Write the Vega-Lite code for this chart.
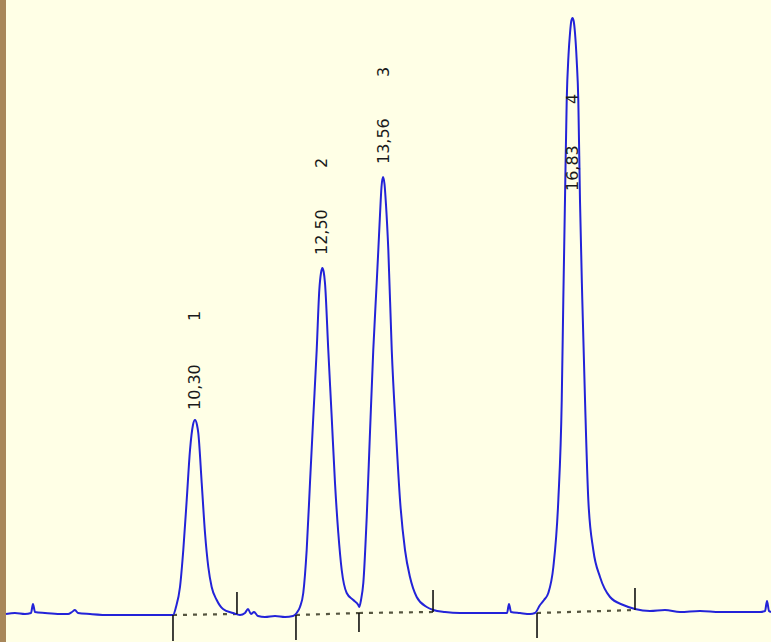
{
  "$schema": "https://vega.github.io/schema/vega-lite/v6.json",
  "width": 765,
  "height": 642,
  "autosize": {"type": "none"},
  "padding": {"left": 6, "top": 0, "right": 0, "bottom": 0},
  "background": "#a8875a",
  "config": {"view": {"fill": "#ffffe6", "stroke": null}},
  "datasets": {
    "trace": [
      {"t": 7.036, "v": 0}, {"t": 7.191, "v": 1}, {"t": 7.364, "v": 0}, {"t": 7.468, "v": 1}, {"t": 7.502, "v": 10}, {"t": 7.537, "v": 2},
      {"t": 7.709, "v": 1}, {"t": 7.968, "v": 0}, {"t": 8.107, "v": 0}, {"t": 8.176, "v": 2}, {"t": 8.227, "v": 4}, {"t": 8.279, "v": 1},
      {"t": 8.487, "v": 0}, {"t": 8.832, "v": -1}, {"t": 9.177, "v": -1}, {"t": 9.523, "v": -1}, {"t": 9.782, "v": -1}, {"t": 9.920, "v": -1},
      {"t": 9.972, "v": 7}, {"t": 10.041, "v": 27}, {"t": 10.098, "v": 64}, {"t": 10.157, "v": 114}, {"t": 10.214, "v": 164}, {"t": 10.265, "v": 189},
      {"t": 10.300, "v": 194}, {"t": 10.335, "v": 189}, {"t": 10.357, "v": 181}, {"t": 10.416, "v": 131}, {"t": 10.473, "v": 81}, {"t": 10.530, "v": 47},
      {"t": 10.588, "v": 27}, {"t": 10.675, "v": 14}, {"t": 10.784, "v": 5}, {"t": 10.956, "v": 1},
      {"t": 11.077, "v": -1}, {"t": 11.164, "v": 1}, {"t": 11.215, "v": 5}, {"t": 11.267, "v": 0}, {"t": 11.319, "v": 2}, {"t": 11.388, "v": -2},
      {"t": 11.509, "v": -3}, {"t": 11.682, "v": -2}, {"t": 11.854, "v": -3}, {"t": 11.993, "v": -2}, {"t": 12.056, "v": 1},
      {"t": 12.113, "v": 7}, {"t": 12.170, "v": 21}, {"t": 12.229, "v": 64}, {"t": 12.286, "v": 131}, {"t": 12.343, "v": 197}, {"t": 12.402, "v": 264},
      {"t": 12.447, "v": 324}, {"t": 12.476, "v": 341}, {"t": 12.499, "v": 346}, {"t": 12.523, "v": 342}, {"t": 12.545, "v": 331}, {"t": 12.602, "v": 264},
      {"t": 12.661, "v": 197}, {"t": 12.718, "v": 131}, {"t": 12.775, "v": 81}, {"t": 12.834, "v": 44}, {"t": 12.920, "v": 21}, {"t": 13.034, "v": 14},
      {"t": 13.120, "v": 9}, {"t": 13.138, "v": 7},
      {"t": 13.167, "v": 14}, {"t": 13.207, "v": 31}, {"t": 13.266, "v": 97}, {"t": 13.322, "v": 181}, {"t": 13.379, "v": 264}, {"t": 13.438, "v": 331},
      {"t": 13.466, "v": 364}, {"t": 13.495, "v": 399}, {"t": 13.521, "v": 427}, {"t": 13.547, "v": 437}, {"t": 13.573, "v": 430}, {"t": 13.599, "v": 409},
      {"t": 13.639, "v": 364}, {"t": 13.698, "v": 264}, {"t": 13.772, "v": 181}, {"t": 13.841, "v": 114}, {"t": 13.927, "v": 64}, {"t": 14.013, "v": 37},
      {"t": 14.129, "v": 17}, {"t": 14.302, "v": 7}, {"t": 14.416, "v": 4},
      {"t": 14.618, "v": 2}, {"t": 14.877, "v": 1}, {"t": 15.222, "v": 1}, {"t": 15.568, "v": 1}, {"t": 15.689, "v": 1}, {"t": 15.723, "v": 10},
      {"t": 15.758, "v": 2}, {"t": 15.913, "v": 1}, {"t": 16.086, "v": 0}, {"t": 16.172, "v": 1},
      {"t": 16.259, "v": 9}, {"t": 16.328, "v": 14}, {"t": 16.402, "v": 21}, {"t": 16.489, "v": 47}, {"t": 16.575, "v": 114}, {"t": 16.634, "v": 214},
      {"t": 16.661, "v": 314}, {"t": 16.690, "v": 414}, {"t": 16.720, "v": 514}, {"t": 16.751, "v": 559}, {"t": 16.777, "v": 581}, {"t": 16.799, "v": 593},
      {"t": 16.820, "v": 596}, {"t": 16.840, "v": 593}, {"t": 16.863, "v": 581}, {"t": 16.892, "v": 554}, {"t": 16.920, "v": 514}, {"t": 16.949, "v": 414},
      {"t": 16.989, "v": 314}, {"t": 17.036, "v": 214}, {"t": 17.093, "v": 114}, {"t": 17.179, "v": 64}, {"t": 17.295, "v": 37}, {"t": 17.468, "v": 17},
      {"t": 17.697, "v": 9}, {"t": 17.899, "v": 5},
      {"t": 18.158, "v": 3}, {"t": 18.417, "v": 4}, {"t": 18.677, "v": 2}, {"t": 19.022, "v": 3}, {"t": 19.367, "v": 2}, {"t": 19.713, "v": 2},
      {"t": 20.058, "v": 2}, {"t": 20.145, "v": 3}, {"t": 20.179, "v": 13}, {"t": 20.214, "v": 3}, {"t": 20.248, "v": 2}
    ],
    "baselines": [
      {"seg": 1, "t": 9.920, "v": -1}, {"seg": 1, "t": 11.025, "v": 0},
      {"seg": 2, "t": 12.044, "v": -1}, {"seg": 2, "t": 13.132, "v": 1},
      {"seg": 3, "t": 13.132, "v": 1}, {"seg": 3, "t": 14.411, "v": 2},
      {"seg": 4, "t": 16.207, "v": 1}, {"seg": 4, "t": 17.899, "v": 4}
    ],
    "ticks": [
      {"t": 9.920, "v1": -1, "v2": -27},
      {"t": 11.025, "v1": 0, "v2": 22},
      {"t": 12.044, "v1": -1, "v2": -26},
      {"t": 13.132, "v1": 1, "v2": -18},
      {"t": 14.411, "v1": 2, "v2": 24},
      {"t": 16.207, "v1": 1, "v2": -24},
      {"t": 17.899, "v1": 4, "v2": 26}
    ],
    "labels": [
      {"t": 10.30, "v": 204, "text": "10,30"},
      {"t": 10.30, "v": 293, "text": "1"},
      {"t": 12.50, "v": 359, "text": "12,50"},
      {"t": 12.50, "v": 446, "text": "2"},
      {"t": 13.56, "v": 450, "text": "13,56"},
      {"t": 13.56, "v": 537, "text": "3"},
      {"t": 16.83, "v": 423, "text": "16,83"},
      {"t": 16.83, "v": 510, "text": "4"}
    ]
  },
  "resolve": {"scale": {"x": "shared", "y": "shared"}},
  "layer": [
    {
      "data": {"name": "baselines"},
      "mark": {"type": "line", "color": "#55553f", "strokeWidth": 2.2, "strokeDash": [4, 6]},
      "encoding": {
        "x": {"field": "t", "type": "quantitative", "scale": {"domain": [7.036, 20.248], "nice": false, "zero": false}, "axis": null},
        "y": {"field": "v", "type": "quantitative", "scale": {"domain": [-28, 614], "nice": false, "zero": false}, "axis": null},
        "detail": {"field": "seg", "type": "nominal"}
      }
    },
    {
      "data": {"name": "trace"},
      "mark": {"type": "line", "color": "#2323d8", "strokeWidth": 2, "interpolate": "monotone"},
      "encoding": {
        "x": {"field": "t", "type": "quantitative"},
        "y": {"field": "v", "type": "quantitative"}
      }
    },
    {
      "data": {"name": "ticks"},
      "mark": {"type": "rule", "color": "#111111", "strokeWidth": 1.6},
      "encoding": {
        "x": {"field": "t", "type": "quantitative"},
        "y": {"field": "v1", "type": "quantitative"},
        "y2": {"field": "v2"}
      }
    },
    {
      "data": {"name": "labels"},
      "mark": {"type": "text", "angle": 270, "align": "left", "baseline": "middle", "font": "DejaVu Sans", "fontSize": 16, "color": "#1a1a1a"},
      "encoding": {
        "x": {"field": "t", "type": "quantitative"},
        "y": {"field": "v", "type": "quantitative"},
        "text": {"field": "text", "type": "nominal"}
      }
    }
  ]
}
